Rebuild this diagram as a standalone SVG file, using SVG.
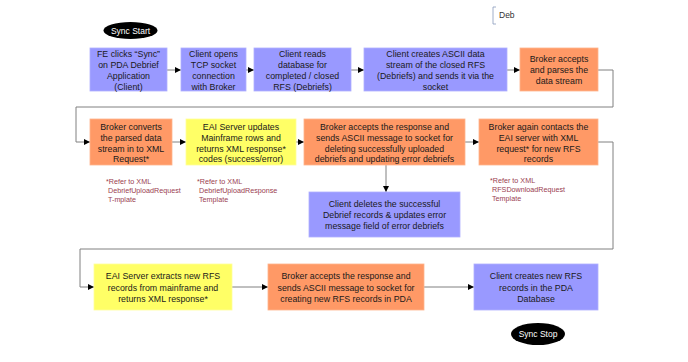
<svg xmlns="http://www.w3.org/2000/svg" width="688" height="362" viewBox="0 0 688 362">
<style>
.t{font-family:"Liberation Sans",Arial,sans-serif;font-size:8.8px;fill:#1a1a1a;text-anchor:middle}
.w{font-family:"Liberation Sans",Arial,sans-serif;font-size:8.5px;fill:#ffffff;text-anchor:middle}
.n{font-family:"Liberation Sans",Arial,sans-serif;font-size:7.2px;fill:#9a4050}
.b{fill:#9999ff;stroke:#b0b0ff;stroke-width:0.8}
.o{fill:#ff9966;stroke:#ffb38c;stroke-width:0.8}
.y{fill:#ffff66;stroke:#ffff99;stroke-width:0.8}
.c{fill:none;stroke:#808080;stroke-width:1}
</style>
<defs>
<marker id="ah" markerUnits="userSpaceOnUse" markerWidth="6" markerHeight="6" refX="6" refY="3" orient="auto">
<path d="M0,0 L6,3 L0,6 z" fill="#000"/>
</marker>
</defs>
<rect width="688" height="362" fill="#fff"/>
<g id="deb">
<path d="M496,7 L493,7 L493,24 L496,24" fill="none" stroke="#8899bb" stroke-width="0.8"/>
<text x="499" y="18" font-family="Liberation Sans,Arial,sans-serif" font-size="8.5" fill="#333">Deb</text>
</g>
<g id="connectors">
<path class="c" d="M167,70 H181" marker-end="url(#ah)"/>
<path class="c" d="M246,70 H254" marker-end="url(#ah)"/>
<path class="c" d="M351,70 H364" marker-end="url(#ah)"/>
<path class="c" d="M507,70 H520" marker-end="url(#ah)"/>
<path class="c" d="M598,70 H613 V107 H76 V142 H90" marker-end="url(#ah)"/>
<path class="c" d="M172,142 H186" marker-end="url(#ah)"/>
<path class="c" d="M296,142 H304" marker-end="url(#ah)"/>
<path class="c" d="M465,142 H479" marker-end="url(#ah)"/>
<path class="c" d="M386,165 V192" marker-end="url(#ah)"/>
<path class="c" d="M598,142 H613 V249 H80 V287 H94" marker-end="url(#ah)"/>
<path class="c" d="M232,287 H268" marker-end="url(#ah)"/>
<path class="c" d="M424,287 H474" marker-end="url(#ah)"/>
</g>
<g id="sync-start">
<ellipse cx="130.5" cy="30.5" rx="27" ry="8.5" fill="#000"/>
<text class="w" x="130.5" y="33.5">Sync Start</text>
</g>
<g id="n1">
<rect class="b" x="90" y="48" width="77" height="43"/>
<text class="t" x="128.5" y="56.5">FE clicks “Sync”</text>
<text class="t" x="128.5" y="67.5">on PDA Debrief</text>
<text class="t" x="128.5" y="78.5">Application</text>
<text class="t" x="128.5" y="89.5">(Client)</text>
</g>
<g id="n2">
<rect class="b" x="181" y="48" width="65" height="43"/>
<text class="t" x="213.5" y="56.5">Client opens</text>
<text class="t" x="213.5" y="67.5">TCP socket</text>
<text class="t" x="213.5" y="78.5">connection</text>
<text class="t" x="213.5" y="89.5">with Broker</text>
</g>
<g id="n3">
<rect class="b" x="254" y="48" width="97" height="43"/>
<text class="t" x="302.5" y="56.5">Client reads</text>
<text class="t" x="302.5" y="67.5">database for</text>
<text class="t" x="302.5" y="78.5">completed / closed</text>
<text class="t" x="302.5" y="89.5">RFS (Debriefs)</text>
</g>
<g id="n4">
<rect class="b" x="364" y="48" width="143" height="43"/>
<text class="t" x="435.5" y="56.5">Client creates ASCII data</text>
<text class="t" x="435.5" y="67.5">stream of the closed RFS</text>
<text class="t" x="435.5" y="78.5">(Debriefs) and sends it via the</text>
<text class="t" x="435.5" y="89.5">socket</text>
</g>
<g id="n5">
<rect class="o" x="520" y="48" width="78" height="43"/>
<text class="t" x="559" y="62">Broker accepts</text>
<text class="t" x="559" y="73">and parses the</text>
<text class="t" x="559" y="84">data stream</text>
</g>
<g id="n6">
<rect class="o" x="90" y="119" width="82" height="46"/>
<text class="t" x="131" y="130">Broker converts</text>
<text class="t" x="131" y="141">the parsed data</text>
<text class="t" x="131" y="152">stream in to XML</text>
<text class="t" x="131" y="162">Request*</text>
</g>
<g id="n7">
<rect class="y" x="186" y="119" width="110" height="46"/>
<text class="t" x="241" y="130">EAI Server updates</text>
<text class="t" x="241" y="141">Mainframe rows and</text>
<text class="t" x="241" y="152">returns XML response*</text>
<text class="t" x="241" y="162">codes (success/error)</text>
</g>
<g id="n8">
<rect class="o" x="304" y="119" width="161" height="46"/>
<text class="t" x="384.5" y="130">Broker accepts the response and</text>
<text class="t" x="384.5" y="141">sends ASCII message to socket for</text>
<text class="t" x="384.5" y="152">deleting successfully uploaded</text>
<text class="t" x="384.5" y="162">debriefs and updating error debriefs</text>
</g>
<g id="n9">
<rect class="o" x="479" y="119" width="119" height="46"/>
<text class="t" x="538.5" y="130">Broker again contacts the</text>
<text class="t" x="538.5" y="141">EAI server with XML</text>
<text class="t" x="538.5" y="152">request* for new RFS</text>
<text class="t" x="538.5" y="162">records</text>
</g>
<g id="note1">
<text class="n" x="106" y="183.5">*Refer to XML</text>
<text class="n" x="108" y="193">DebriefUploadRequest</text>
<text class="n" x="108" y="202">T-mplate</text>
</g>
<g id="note2">
<text class="n" x="197" y="183.5">*Refer to XML</text>
<text class="n" x="199" y="193">DebriefUploadResponse</text>
<text class="n" x="199" y="202">Template</text>
</g>
<g id="note3">
<text class="n" x="490" y="183">*Refer to XML</text>
<text class="n" x="492" y="192">RFSDownloadRequest</text>
<text class="n" x="492" y="201">Template</text>
</g>
<g id="n10">
<rect class="b" x="309" y="192" width="151" height="45"/>
<text class="t" x="384.5" y="207">Client deletes the successful</text>
<text class="t" x="384.5" y="218">Debrief  records &amp; updates error</text>
<text class="t" x="384.5" y="229">message field of error debriefs</text>
</g>
<g id="n11">
<rect class="y" x="94" y="264" width="138" height="46"/>
<text class="t" x="163" y="279">EAI Server extracts new RFS</text>
<text class="t" x="163" y="290.5">records from mainframe and</text>
<text class="t" x="163" y="302">returns XML response*</text>
</g>
<g id="n12">
<rect class="o" x="268" y="264" width="156" height="46"/>
<text class="t" x="346" y="279">Broker accepts the response and</text>
<text class="t" x="346" y="290.5">sends ASCII message to socket for</text>
<text class="t" x="346" y="302">creating new RFS records in PDA</text>
</g>
<g id="n13">
<rect class="b" x="474" y="264" width="124" height="46"/>
<text class="t" x="536" y="279">Client creates new RFS</text>
<text class="t" x="536" y="290.5">records in the PDA</text>
<text class="t" x="536" y="302">Database</text>
</g>
<g id="sync-stop">
<ellipse cx="538" cy="334" rx="27" ry="11" fill="#000"/>
<text class="w" x="538" y="337">Sync Stop</text>
</g>
</svg>
